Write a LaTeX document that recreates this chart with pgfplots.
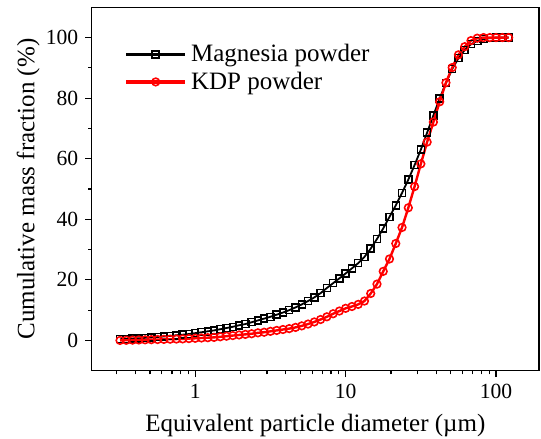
\documentclass[border=0pt]{standalone}
\usepackage{fontspec}
\setmainfont{Liberation Serif}
\usepackage{pgfplots}
\usepackage{pgfplotstable}
\pgfplotsset{compat=1.18}
\definecolor{kdp}{RGB}{255,0,0}

% equivalent diameter (um), cumulative mass fraction (%)
\pgfplotstableread{
d y
0.3162 0.4
0.3481 0.5
0.3831 0.6
0.4217 0.7
0.4642 0.85
0.5109 1.0
0.5623 1.15
0.6190 1.3
0.6813 1.5
0.7499 1.7
0.8254 1.9
0.9085 2.1
1.000 2.4
1.101 2.7
1.212 3.0
1.334 3.3
1.468 3.7
1.616 4.1
1.778 4.5
1.957 5.0
2.154 5.4
2.371 6.0
2.610 6.6
2.873 7.2
3.162 7.8
3.481 8.5
3.831 9.2
4.217 10.0
4.642 10.9
5.109 11.9
5.623 13.0
6.190 14.2
6.813 15.6
7.499 17.3
8.254 18.9
9.085 20.5
10.00 22.1
11.01 23.8
12.12 25.5
13.34 27.6
14.68 30.3
16.16 33.5
17.78 37.0
19.57 40.8
21.54 44.6
23.71 48.7
26.10 53.1
28.73 57.9
31.62 63.0
34.81 68.6
38.31 74.3
42.17 79.9
46.42 85.0
51.09 89.6
56.23 93.2
61.90 95.9
68.13 97.8
74.99 98.9
82.54 99.5
90.85 99.8
100.0 100
110.1 100
121.2 100
}\magnesia

\pgfplotstableread{
d y
0.3162 0.0
0.3481 0.05
0.3831 0.1
0.4217 0.15
0.4642 0.2
0.5109 0.25
0.5623 0.3
0.6190 0.35
0.6813 0.4
0.7499 0.45
0.8254 0.5
0.9085 0.6
1.000 0.7
1.101 0.8
1.212 0.9
1.334 1.0
1.468 1.2
1.616 1.4
1.778 1.6
1.957 1.8
2.154 2.0
2.371 2.2
2.610 2.5
2.873 2.7
3.162 3.0
3.481 3.3
3.831 3.6
4.217 3.9
4.642 4.3
5.109 4.8
5.623 5.4
6.190 6.1
6.813 6.9
7.499 7.8
8.254 8.8
9.085 9.7
10.00 10.6
11.01 11.2
12.12 11.9
13.34 13.0
14.68 15.5
16.16 18.6
17.78 22.8
19.57 26.9
21.54 32.0
23.71 37.3
26.10 43.8
28.73 50.8
31.62 58.3
34.81 65.5
38.31 72.1
42.17 78.8
46.42 85.1
51.09 90.1
56.23 94.3
61.90 97.0
68.13 99.0
74.99 99.8
82.54 100
90.85 100
100.0 100
110.1 100
121.2 100
}\kdppowder

\begin{document}
\begin{tikzpicture}
\useasboundingbox (-45.85pt,-34.15pt) rectangle (224.65pt,185.35pt);
\begin{axis}[
  at={(0pt,0pt)}, anchor=south west,
  scale only axis, width=223.65pt, height=181.7pt,
  xmode=log, xmin=0.205, xmax=193,
  ymin=-10, ymax=110,
  xtick={1,10,100}, xticklabels={1,10,100},
  minor xtick={0.3,0.4,0.5,0.6,0.7,0.8,0.9,2,3,4,5,6,7,8,9,20,30,40,50,60,70,80,90},
  ytick={0,20,...,100}, minor y tick num=1,
  tick align=outside, xtick pos=left, ytick pos=left,
  major tick length=3.2pt, minor tick length=1.8pt,
  axis line style={line width=0.6pt},
  every tick/.style={line width=0.6pt, black},
  /pgf/number format/assume math mode=true,
  ticklabel style={font=\fontsize{10.8}{12}\selectfont},
  label style={font=\fontsize{12.5}{15}\selectfont},
  xlabel={Equivalent particle diameter (µm)},
  ylabel={Cumulative mass fraction (\%)},
  xlabel style={at={(axis description cs:0.5,-0.152)}, anchor=center},
  ylabel style={at={(axis description cs:-0.142,0.5)}, anchor=center},
  legend style={draw=none, fill=none, at={(axis description cs:0.072,0.91)},
    anchor=north west, font=\fontsize{12.5}{15}\selectfont,
    row sep=-0.5pt, inner sep=0pt},
  legend cell align=left,
  legend image code/.code={
    \draw[#1, mark=none] (0pt,0pt) -- (29.5pt,0pt);
    \draw[#1, only marks] plot coordinates {(14.75pt,0pt)};},
]
\addplot[black, line width=0.9pt, mark=square, mark size=1.75pt,
  mark options={solid, fill=white, line width=0.75pt},
  legend image post style={line width=1.4pt}] table[x=d, y=y] {\magnesia};
\addplot[kdp, line width=1.2pt, mark=o, mark size=1.9pt,
  mark options={solid, fill=white, line width=0.8pt},
  legend image post style={line width=1.9pt}] table[x=d, y=y] {\kdppowder};
\legend{Magnesia powder, KDP powder}
\end{axis}
\end{tikzpicture}
\end{document}
